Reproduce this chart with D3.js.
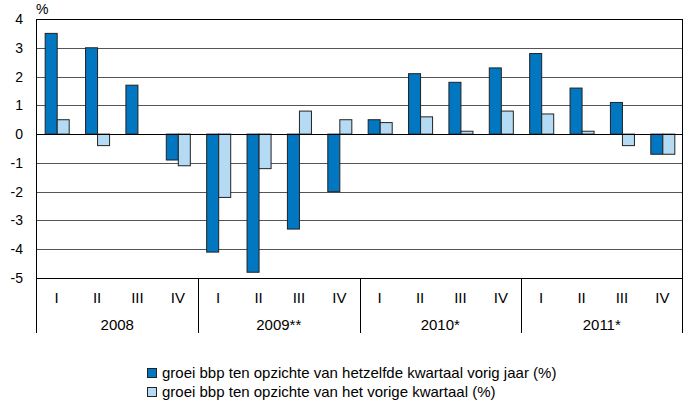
<!DOCTYPE html>
<html>
<head>
<meta charset="utf-8">
<script src="https://cdn.jsdelivr.net/npm/d3@7"></script>
<style>
  body { margin: 0; background: #fff; }
  text { font-family: "Liberation Sans", Arial, sans-serif; fill: #000; }
</style>
</head>
<body>
<script>
// data
const years = ["2008", "2009**", "2010*", "2011*"];
const quarters = ["I", "II", "III", "IV"];
const yoyGrowth = [3.5, 3.0, 1.7, -0.9, -4.1, -4.8, -3.3, -2.0, 0.5, 2.1, 1.8, 2.3, 2.8, 1.6, 1.1, -0.7];
const qoqGrowth = [0.5, -0.4, 0.0, -1.1, -2.2, -1.2, 0.8, 0.5, 0.4, 0.6, 0.1, 0.8, 0.7, 0.1, -0.4, -0.7];
const yTicks = [4, 3, 2, 1, 0, -1, -2, -3, -4, -5];
const seriesNames = ["groei bbp ten opzichte van hetzelfde kwartaal vorig jaar (%)",
                     "groei bbp ten opzichte van het vorige kwartaal (%)"];
const colors = ["#0077c0", "#b4daf4"];

const w = 690, h = 409;
const plotLeft = 36.5, plotRight = 682.5, plotTop = 19, plotBottom = 278;

// one row per quarter
const dataset = [];
years.forEach((y, i) => quarters.forEach((q, j) => {
  const k = i * 4 + j;
  dataset.push({ key: y + "-" + q, year: y, q: q, vals: [yoyGrowth[k], qoqGrowth[k]] });
}));

const svg = d3.select("body").append("svg")
  .attr("width", w)
  .attr("height", h);

const xScale = d3.scaleBand()
  .domain(dataset.map(d => d.key))
  .range([plotLeft, plotRight]);
const inner = d3.scaleBand()
  .domain([0, 1])
  .range([0, xScale.bandwidth()])
  .paddingOuter(0.68)
  .paddingInner(0);
const yScale = d3.scaleLinear()
  .domain([-5, 4])
  .range([plotBottom, plotTop]);

// gridlines
svg.append("g")
  .selectAll("line")
  .data(yTicks)
  .enter()
  .append("line")
  .attr("x1", plotLeft)
  .attr("x2", plotRight)
  .attr("y1", d => Math.round(yScale(d)) + 0.5)
  .attr("y2", d => Math.round(yScale(d)) + 0.5)
  .attr("stroke", d => (d === 0 || d === 4 || d === -5) ? "#000" : "#555")
  .attr("stroke-width", 1);

// y labels
svg.append("g")
  .selectAll("text")
  .data(yTicks)
  .enter()
  .append("text")
  .attr("x", 23)
  .attr("y", d => yScale(d) + 5)
  .attr("text-anchor", "end")
  .style("font-size", "14px")
  .text(d => d);

svg.append("text")
  .attr("x", 36)
  .attr("y", 14)
  .style("font-size", "14px")
  .text("%");

// bars
const groups = svg.append("g")
  .selectAll("g")
  .data(dataset)
  .enter()
  .append("g")
  .attr("transform", d => `translate(${xScale(d.key)},0)`);

groups.selectAll("rect")
  .data(d => d.vals.map((v, i) => ({ v: v, i: i })).filter(e => e.v !== 0))
  .enter()
  .append("rect")
  .attr("x", e => inner(e.i) + 0.5)
  .attr("y", e => yScale(Math.max(0, e.v)))
  .attr("width", inner.bandwidth())
  .attr("height", e => Math.abs(yScale(e.v) - yScale(0)))
  .attr("fill", e => colors[e.i])
  .attr("stroke", "#222")
  .attr("stroke-width", 1);

// redraw zero line on top
svg.append("line")
  .attr("x1", plotLeft).attr("x2", plotRight)
  .attr("y1", Math.round(yScale(0)) + 0.5)
  .attr("y2", Math.round(yScale(0)) + 0.5)
  .attr("stroke", "#000");

// frame lines
const axisBottom = 333;
svg.append("line")
  .attr("x1", plotLeft).attr("x2", plotLeft)
  .attr("y1", plotTop).attr("y2", axisBottom)
  .attr("stroke", "#000");
svg.append("line")
  .attr("x1", plotRight).attr("x2", plotRight)
  .attr("y1", plotTop).attr("y2", axisBottom)
  .attr("stroke", "#000");

// year separators
svg.append("g")
  .selectAll("line")
  .data(years.slice(1))
  .enter()
  .append("line")
  .attr("x1", d => Math.round(xScale(d + "-I")) + 0.5)
  .attr("x2", d => Math.round(xScale(d + "-I")) + 0.5)
  .attr("y1", plotBottom)
  .attr("y2", axisBottom)
  .attr("stroke", "#000");

// quarter labels
svg.append("g")
  .selectAll("text")
  .data(dataset)
  .enter()
  .append("text")
  .attr("x", d => xScale(d.key) + xScale.bandwidth() / 2)
  .attr("y", 302.5)
  .attr("text-anchor", "middle")
  .style("font-size", "15px")
  .text(d => d.q);

// year labels
svg.append("g")
  .selectAll("text")
  .data(years)
  .enter()
  .append("text")
  .attr("x", d => xScale(d + "-I") + xScale.bandwidth() * 2)
  .attr("y", 329.5)
  .attr("text-anchor", "middle")
  .style("font-size", "15px")
  .text(d => d);

// legend
const legend = svg.append("g")
  .selectAll("g")
  .data(seriesNames)
  .enter()
  .append("g")
  .attr("transform", (d, i) => `translate(147,${368 + i * 19})`);

legend.append("rect")
  .attr("x", 0.5)
  .attr("y", 0.5)
  .attr("width", 9)
  .attr("height", 9)
  .attr("fill", (d, i) => colors[i])
  .attr("stroke", "#222");

legend.append("text")
  .attr("x", 15)
  .attr("y", 10)
  .style("font-size", "15px")
  .text(d => d);
</script>
</body>
</html>
